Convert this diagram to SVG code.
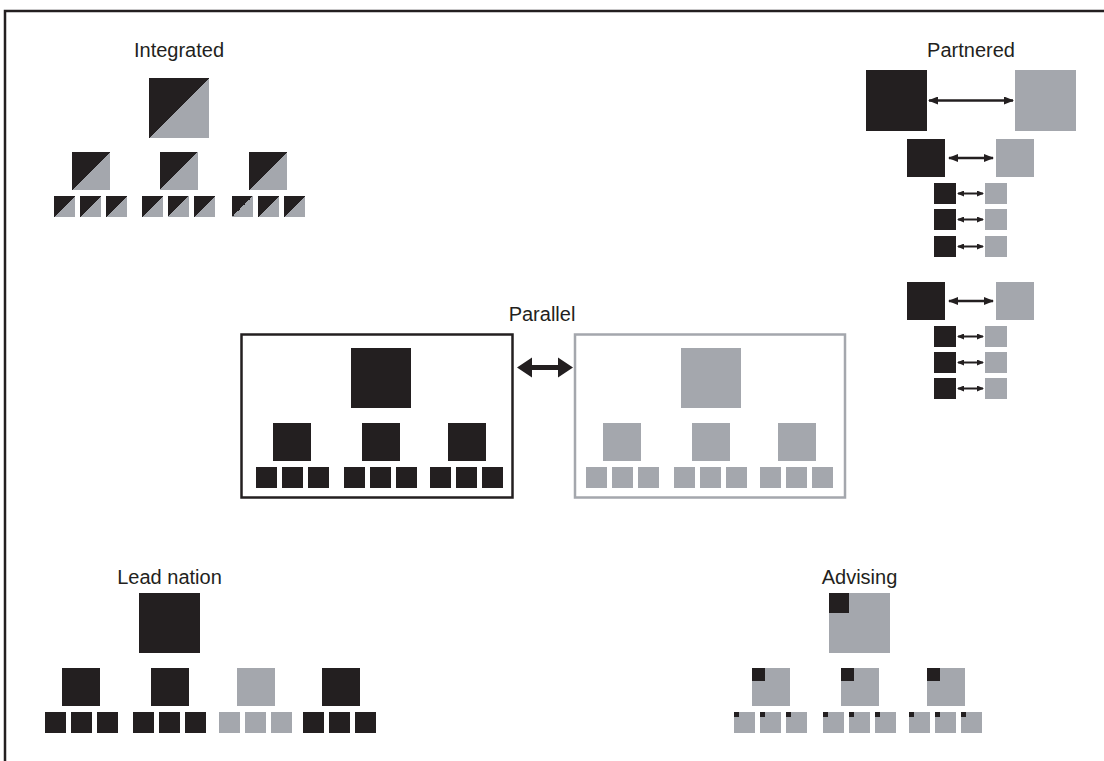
<svg xmlns="http://www.w3.org/2000/svg" width="1104" height="761" viewBox="0 0 1104 761">
<style>
.k{fill:#231f20}
.g{fill:#a4a7ad}
.d{fill:url(#diag)}
.t{font-family:"Liberation Sans",Arial,sans-serif;font-size:20px;fill:#231f20;text-anchor:middle}
.ln{stroke:#231f20;stroke-width:2.5;fill:none}
.ls{stroke:#231f20;stroke-width:2;fill:none}
</style>
<defs>
<linearGradient id="diag" x1="0" y1="0" x2="1" y2="1">
<stop offset="0.5" stop-color="#231f20"/>
<stop offset="0.5" stop-color="#a4a7ad"/>
</linearGradient>
<marker id="ah" viewBox="0 0 10 8" refX="9" refY="4" markerWidth="10" markerHeight="8" markerUnits="userSpaceOnUse" orient="auto-start-reverse">
<path d="M0,0 L10,4 L0,8 Z" fill="#231f20"/>
</marker>
<marker id="as" viewBox="0 0 7 6" refX="6" refY="3" markerWidth="7" markerHeight="6" markerUnits="userSpaceOnUse" orient="auto-start-reverse">
<path d="M0,0 L7,3 L0,6 Z" fill="#231f20"/>
</marker>
</defs>
<rect width="1104" height="761" fill="#fff"/>
<path d="M5,761 V11 H1104" stroke="#231f20" stroke-width="2.5" fill="none"/>

<g id="integrated">
<text class="t" x="179" y="57">Integrated</text>
<rect class="d" x="149" y="78" width="60" height="60"/>
<rect class="d" x="72" y="152" width="38" height="38"/>
<rect class="d" x="160" y="152" width="38" height="38"/>
<rect class="d" x="249" y="152" width="38" height="38"/>
<rect class="d" x="54" y="196" width="21" height="21"/>
<rect class="d" x="80" y="196" width="21" height="21"/>
<rect class="d" x="106" y="196" width="21" height="21"/>
<rect class="d" x="142" y="196" width="21" height="21"/>
<rect class="d" x="168" y="196" width="21" height="21"/>
<rect class="d" x="194" y="196" width="21" height="21"/>
<rect class="d" x="232" y="196" width="21" height="21"/>
<rect class="d" x="258" y="196" width="21" height="21"/>
<rect class="d" x="284" y="196" width="21" height="21"/>
</g>

<g id="partnered">
<text class="t" x="971" y="57">Partnered</text>
<rect class="k" x="866" y="70" width="61" height="61"/>
<rect class="g" x="1015" y="70" width="61" height="61"/>
<rect class="k" x="907" y="139" width="38" height="38"/>
<rect class="g" x="996" y="139" width="38" height="38"/>
<rect class="k" x="934" y="183" width="22" height="21"/>
<rect class="g" x="985" y="183" width="22" height="21"/>
<rect class="k" x="934" y="209" width="22" height="21"/>
<rect class="g" x="985" y="209" width="22" height="21"/>
<rect class="k" x="934" y="236" width="22" height="21"/>
<rect class="g" x="985" y="236" width="22" height="21"/>
<rect class="k" x="907" y="282" width="38" height="38"/>
<rect class="g" x="996" y="282" width="38" height="38"/>
<rect class="k" x="934" y="326" width="22" height="21"/>
<rect class="g" x="985" y="326" width="22" height="21"/>
<rect class="k" x="934" y="352" width="22" height="21"/>
<rect class="g" x="985" y="352" width="22" height="21"/>
<rect class="k" x="934" y="378" width="22" height="21"/>
<rect class="g" x="985" y="378" width="22" height="21"/>
</g>

<g id="parallel">
<text class="t" x="542" y="321">Parallel</text>
<g id="parallel-left">
<rect x="241.5" y="334.5" width="271" height="163" stroke="#231f20" stroke-width="2.5" fill="none"/>
<rect class="k" x="351" y="348" width="60" height="60"/>
<rect class="k" x="273" y="423" width="38" height="38"/>
<rect class="k" x="362" y="423" width="38" height="38"/>
<rect class="k" x="448" y="423" width="38" height="38"/>
<rect class="k" x="256" y="467" width="21" height="21"/>
<rect class="k" x="282" y="467" width="21" height="21"/>
<rect class="k" x="308" y="467" width="21" height="21"/>
<rect class="k" x="344" y="467" width="21" height="21"/>
<rect class="k" x="370" y="467" width="21" height="21"/>
<rect class="k" x="396" y="467" width="21" height="21"/>
<rect class="k" x="430" y="467" width="21" height="21"/>
<rect class="k" x="456" y="467" width="21" height="21"/>
<rect class="k" x="482" y="467" width="21" height="21"/>
</g>
<g id="parallel-right">
<rect x="575" y="334.5" width="270" height="163" stroke="#a4a7ad" stroke-width="2.5" fill="none"/>
<rect class="g" x="681" y="348" width="60" height="60"/>
<rect class="g" x="603" y="423" width="38" height="38"/>
<rect class="g" x="692" y="423" width="38" height="38"/>
<rect class="g" x="778" y="423" width="38" height="38"/>
<rect class="g" x="586" y="467" width="21" height="21"/>
<rect class="g" x="612" y="467" width="21" height="21"/>
<rect class="g" x="638" y="467" width="21" height="21"/>
<rect class="g" x="674" y="467" width="21" height="21"/>
<rect class="g" x="700" y="467" width="21" height="21"/>
<rect class="g" x="726" y="467" width="21" height="21"/>
<rect class="g" x="760" y="467" width="21" height="21"/>
<rect class="g" x="786" y="467" width="21" height="21"/>
<rect class="g" x="812" y="467" width="21" height="21"/>
</g>
</g>

<g id="lead-nation">
<text class="t" x="169.5" y="584">Lead nation</text>
<rect class="k" x="139" y="593" width="61" height="60"/>
<rect class="k" x="62" y="668" width="38" height="38"/>
<rect class="k" x="151" y="668" width="38" height="38"/>
<rect class="g" x="237" y="668" width="38" height="38"/>
<rect class="k" x="322" y="668" width="38" height="38"/>
<rect class="k" x="45" y="712" width="21" height="21"/>
<rect class="k" x="71" y="712" width="21" height="21"/>
<rect class="k" x="97" y="712" width="21" height="21"/>
<rect class="k" x="133" y="712" width="21" height="21"/>
<rect class="k" x="159" y="712" width="21" height="21"/>
<rect class="k" x="185" y="712" width="21" height="21"/>
<rect class="g" x="219" y="712" width="21" height="21"/>
<rect class="g" x="245" y="712" width="21" height="21"/>
<rect class="g" x="271" y="712" width="21" height="21"/>
<rect class="k" x="303" y="712" width="21" height="21"/>
<rect class="k" x="329" y="712" width="21" height="21"/>
<rect class="k" x="355" y="712" width="21" height="21"/>
</g>

<g id="advising">
<text class="t" x="859.5" y="584">Advising</text>
<rect class="g" x="829" y="593" width="61" height="60"/>
<rect class="k" x="829" y="593" width="20" height="20"/>
<rect class="g" x="752" y="668" width="38" height="38"/>
<rect class="k" x="752" y="668" width="13" height="13"/>
<rect class="g" x="841" y="668" width="38" height="38"/>
<rect class="k" x="841" y="668" width="13" height="13"/>
<rect class="g" x="927" y="668" width="38" height="38"/>
<rect class="k" x="927" y="668" width="13" height="13"/>
<rect class="g" x="734" y="712" width="21" height="21"/><rect class="k" x="734" y="712" width="5" height="5"/>
<rect class="g" x="760" y="712" width="21" height="21"/><rect class="k" x="760" y="712" width="5" height="5"/>
<rect class="g" x="786" y="712" width="21" height="21"/><rect class="k" x="786" y="712" width="5" height="5"/>
<rect class="g" x="823" y="712" width="21" height="21"/><rect class="k" x="823" y="712" width="5" height="5"/>
<rect class="g" x="849" y="712" width="21" height="21"/><rect class="k" x="849" y="712" width="5" height="5"/>
<rect class="g" x="875" y="712" width="21" height="21"/><rect class="k" x="875" y="712" width="5" height="5"/>
<rect class="g" x="909" y="712" width="21" height="21"/><rect class="k" x="909" y="712" width="5" height="5"/>
<rect class="g" x="935" y="712" width="21" height="21"/><rect class="k" x="935" y="712" width="5" height="5"/>
<rect class="g" x="961" y="712" width="21" height="21"/><rect class="k" x="961" y="712" width="5" height="5"/>
</g>

<g id="connectors">
<polygon class="k" points="517,367.5 532,357.5 532,365 558,365 558,357.5 573,367.5 558,377.5 558,370 532,370 532,377.5"/>
<line class="ln" x1="929" y1="100.5" x2="1013" y2="100.5" marker-start="url(#ah)" marker-end="url(#ah)"/>
<line class="ln" x1="949" y1="158" x2="993" y2="158" marker-start="url(#ah)" marker-end="url(#ah)"/>
<line class="ls" x1="958" y1="193.5" x2="983" y2="193.5" marker-start="url(#as)" marker-end="url(#as)"/>
<line class="ls" x1="958" y1="219.5" x2="983" y2="219.5" marker-start="url(#as)" marker-end="url(#as)"/>
<line class="ls" x1="958" y1="246.5" x2="983" y2="246.5" marker-start="url(#as)" marker-end="url(#as)"/>
<line class="ln" x1="949" y1="301" x2="993" y2="301" marker-start="url(#ah)" marker-end="url(#ah)"/>
<line class="ls" x1="958" y1="336.5" x2="983" y2="336.5" marker-start="url(#as)" marker-end="url(#as)"/>
<line class="ls" x1="958" y1="362.5" x2="983" y2="362.5" marker-start="url(#as)" marker-end="url(#as)"/>
<line class="ls" x1="958" y1="388.5" x2="983" y2="388.5" marker-start="url(#as)" marker-end="url(#as)"/>
</g>
</svg>
